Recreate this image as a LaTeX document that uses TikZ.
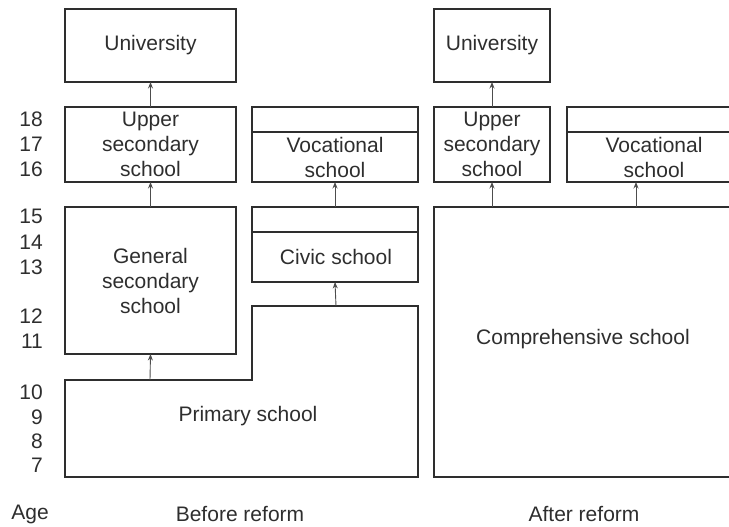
\documentclass[tikz,border=0pt]{standalone}
\usepackage{fontspec}
\setmainfont{Liberation Sans}
\usetikzlibrary{arrows.meta}
\definecolor{ink}{HTML}{2E2E2E}
\begin{document}
\begin{tikzpicture}[x=1pt,y=-1pt,
  every node/.style={font=\fontsize{21}{25}\selectfont, text=ink},
  box/.style={draw=ink, line width=1.1pt, rectangle, inner sep=0pt, outer sep=0pt, anchor=north west, align=center},
  lbl/.style={inner sep=0pt, align=center},
  age/.style={inner sep=0pt, anchor=east},
  arr/.style={draw=ink!85, line width=0.9pt, -{Stealth[length=6.5pt,width=5pt]}},
  sep/.style={draw=ink, line width=1.1pt}]
\clip (0,0) rectangle (729,527);
% ---- Before reform ----
\node[box, minimum width=171pt, minimum height=73pt] (uniA) at (65,9) {University};
\node[box, minimum width=171pt, minimum height=75pt] (upA) at (65,107) {Upper\\secondary\\school};
\node[box, minimum width=166pt, minimum height=75pt] (vocA) at (252,107) {};
\draw[sep] (252,132) -- (418,132);
\node[lbl] (vocAt) at (335,157) {Vocational\\school};
\node[box, minimum width=171pt, minimum height=147pt] (genA) at (65,207) {General\\secondary\\school};
\node[box, minimum width=166pt, minimum height=75pt] (civA) at (252,207) {};
\draw[sep] (252,232) -- (418,232);
\node[lbl] (civAt) at (336,257) {Civic school};
\coordinate (pgen) at (150,380);
\coordinate (pciv) at (336,306);
\draw[sep, line join=miter] (65,380) -- (252,380) -- (252,306) -- (418,306) -- (418,477) -- (65,477) -- cycle;
\node[lbl] (prim) at (248,416) {Primary school};
\draw[arr] (upA.north) -- (uniA.south);
\draw[arr] (genA.north) -- (upA.south);
\draw[arr] (civA.north) -- (vocA.south);
\draw[arr] (pgen) -- (genA.south);
\draw[arr] (pciv) -- (civA.south);
% ---- After reform ----
\node[box, minimum width=116pt, minimum height=73pt] (uniB) at (434,9) {University};
\node[box, minimum width=116pt, minimum height=75pt] (upB) at (434,107) {Upper\\secondary\\school};
\node[box, minimum width=190pt, minimum height=75pt] (vocB) at (567,107) {};
\draw[sep] (567,132) -- (760,132);
\node[lbl] (vocBt) at (654,157) {Vocational\\school};
\node[box, minimum width=320pt, minimum height=270pt] (comp) at (434,207) {};
\node[lbl] (compt) at (583,339) {Comprehensive school};
\coordinate (cup) at (492,207);
\coordinate (cvoc) at (636,207);
\coordinate (vocBb) at (636,182);
\draw[arr] (upB.north) -- (uniB.south);
\draw[arr] (cup) -- (upB.south);
\draw[arr] (cvoc) -- (vocBb);
% ---- Ages ----
\node[age] (a18) at (43,119) {18};
\node[age] (a17) at (43,144) {17};
\node[age] (a16) at (43,169) {16};
\node[age] (a15) at (43,216) {15};
\node[age] (a14) at (43,242) {14};
\node[age] (a13) at (43,267) {13};
\node[age] (a12) at (43,316) {12};
\node[age] (a11) at (43,341) {11};
\node[age] (a10) at (43,392) {10};
\node[age] (a9) at (43,417) {9};
\node[age] (a8) at (43,441) {8};
\node[age] (a7) at (43,465) {7};
\node[lbl] (agel) at (30,514) {Age};
\node[lbl] (before) at (240,514) {Before reform};
\node[lbl] (after) at (584,514) {After reform};
\end{tikzpicture}
\end{document}
